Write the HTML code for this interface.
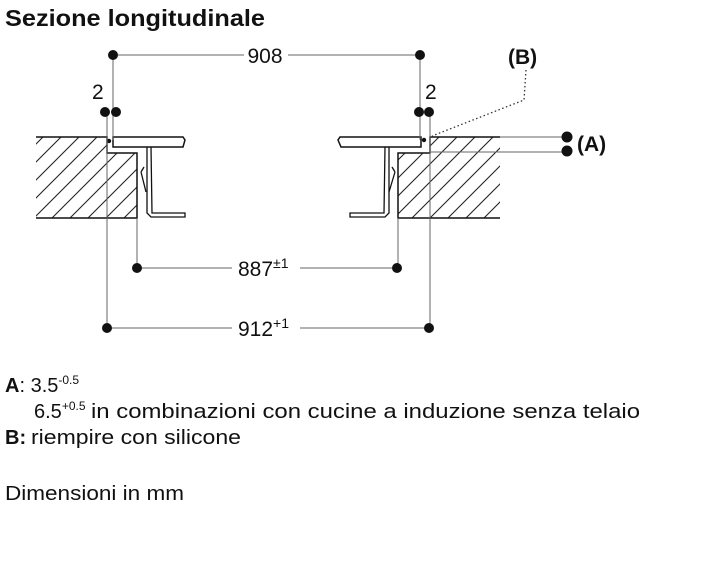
<!DOCTYPE html>
<html><head><meta charset="utf-8"><style>
html,body{margin:0;padding:0;background:#fff;}
svg{display:block;}
text{font-family:"Liberation Sans",Arial,sans-serif;fill:#111;}
</style></head><body>
<svg width="702" height="564" viewBox="0 0 702 564" xmlns="http://www.w3.org/2000/svg">
<defs>
<pattern id="h" patternUnits="userSpaceOnUse" width="18" height="18">
<path d="M0,18 L18,0 M-2,2 L2,-2 M16,20 L20,16" stroke="#222" stroke-width="1.1"/>
</pattern>
</defs>
<text x="5" y="26" font-size="23" font-weight="bold" textLength="260" lengthAdjust="spacingAndGlyphs">Sezione longitudinale</text>

<polygon points="36,137 107,137 107,153 137,153 137,218 36,218" fill="url(#h)"/>
<polyline points="36,137 107,137 107,153 137,153 137,218 36,218" fill="none" stroke="#111" stroke-width="1.5"/>
<path d="M113,137 L183,137 L185,140 L183,147 L113,147 Z" fill="#fff" stroke="#111" stroke-width="1.5"/>
<path d="M147,147 L147,213 L151,217 L185,217 L185,213 L152,213 L151,147" fill="none" stroke="#111" stroke-width="1.3"/>
<path d="M141,172 L144,167 M141,172 L146,192" fill="none" stroke="#111" stroke-width="1.3"/>
<circle cx="109" cy="141" r="2.2" fill="#111"/>

<polygon points="430,137 500,137 500,218 398,218 398,153 430,153" fill="url(#h)"/>
<polyline points="500,137 430,137 430,153 398,153 398,218 500,218" fill="none" stroke="#111" stroke-width="1.5"/>
<path d="M421,137 L340,137 L338,140 L341,147 L421,147 Z" fill="#fff" stroke="#111" stroke-width="1.5"/>
<path d="M389,147 L389,213 L385,217 L350,217 L350,213 L384,213 L385,147" fill="none" stroke="#111" stroke-width="1.3"/>
<path d="M395,172 L392,167 M395,172 L389,192" fill="none" stroke="#111" stroke-width="1.3"/>
<circle cx="424" cy="140" r="2.2" fill="#111"/>

<g stroke="#666" stroke-width="1" fill="none">
<line x1="113" y1="55" x2="244" y2="55"/><line x1="288" y1="55" x2="420" y2="55"/>
<line x1="113" y1="55" x2="113" y2="140"/>
<line x1="420" y1="55" x2="420" y2="140"/>
<line x1="107" y1="112" x2="107" y2="328"/>
<line x1="430" y1="112" x2="430" y2="328"/>
<line x1="137" y1="218" x2="137" y2="268"/>
<line x1="398" y1="218" x2="398" y2="268"/>
<line x1="137" y1="268" x2="232" y2="268"/><line x1="300" y1="268" x2="398" y2="268"/>
<line x1="107" y1="328" x2="232" y2="328"/><line x1="300" y1="328" x2="430" y2="328"/>
<line x1="500" y1="137" x2="567" y2="137"/>
<line x1="430" y1="152" x2="567" y2="152"/>
</g>
<polyline points="526,70 524,100 432,136" fill="none" stroke="#333" stroke-width="1.3" stroke-dasharray="1.5,2.5"/>
<g fill="#111">
<circle cx="113" cy="55" r="5"/><circle cx="420" cy="55" r="5"/>
<circle cx="105" cy="112" r="5"/><circle cx="116" cy="112" r="5"/>
<circle cx="419" cy="112" r="5"/><circle cx="429" cy="112" r="5"/>
<circle cx="137" cy="268" r="5"/><circle cx="397" cy="268" r="5"/>
<circle cx="107" cy="328" r="5"/><circle cx="429" cy="328" r="5"/>
<circle cx="567" cy="137" r="5.5"/><circle cx="567" cy="151" r="5.5"/>
</g>
<text x="265" y="63" font-size="21" text-anchor="middle">908</text>
<text x="92" y="99" font-size="21">2</text>
<text x="425" y="99" font-size="21">2</text>
<text x="508" y="64" font-size="21" font-weight="bold">(B)</text>
<text x="577" y="151" font-size="21" font-weight="bold">(A)</text>
<text x="238" y="276" font-size="21">887<tspan font-size="14" dy="-8">±1</tspan></text>
<text x="238" y="336" font-size="21">912<tspan font-size="14" dy="-8">+1</tspan></text>

<text x="5" y="392" font-size="20"><tspan font-weight="bold">A</tspan>: 3.5<tspan font-size="12" dy="-8">-0.5</tspan></text>
<text x="34" y="418" font-size="20">6.5<tspan font-size="12" dy="-8">+0.5</tspan></text>
<text x="91" y="418" font-size="20" textLength="549" lengthAdjust="spacingAndGlyphs">in combinazioni con cucine a induzione senza telaio</text>
<text x="5" y="444" font-size="20" font-weight="bold">B:</text>
<text x="31" y="444" font-size="20" textLength="210" lengthAdjust="spacingAndGlyphs">riempire con silicone</text>
<text x="5" y="500" font-size="20" textLength="179" lengthAdjust="spacingAndGlyphs">Dimensioni in mm</text>
</svg>
</body></html>
